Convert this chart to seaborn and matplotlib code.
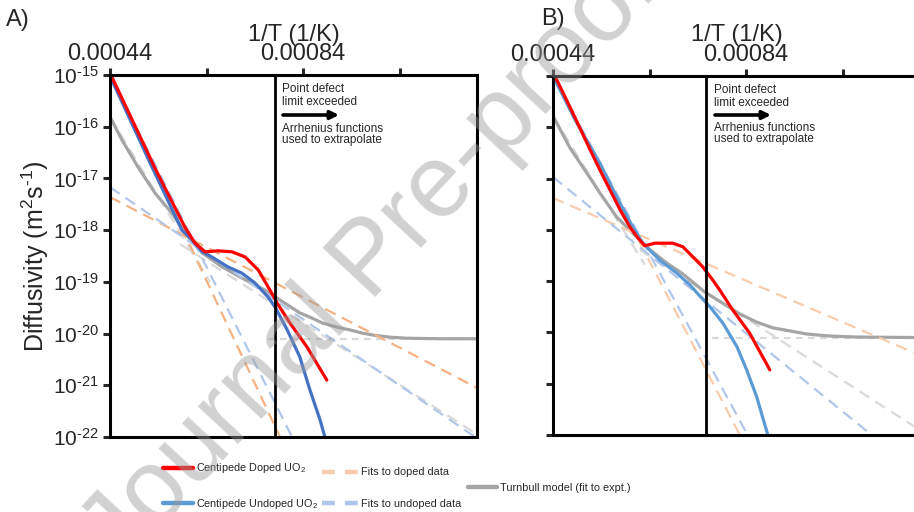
import numpy as np
import matplotlib
matplotlib.use("Agg")
import matplotlib.pyplot as plt
from matplotlib.lines import Line2D
from matplotlib.patches import FancyArrowPatch
from matplotlib.ticker import FixedLocator, FixedFormatter, NullLocator
import seaborn as sns

# ---------------- data (x = 1/T in 1/K, values = log10 D in m^2/s) ----------------
# Panel A
a_doped_x = [0.000442, 0.000533, 0.000595, 0.000616, 0.000637, 0.000664, 0.000693, 0.000720,
             0.000747, 0.000775, 0.000786, 0.000813, 0.000848, 0.000889]
a_doped_logD = [-15.00, -16.80, -17.94, -18.25, -18.42, -18.40, -18.42, -18.52,
                -18.77, -19.22, -19.41, -19.80, -20.26, -20.90]
a_undoped_x = [0.000440, 0.000523, 0.000589, 0.000610, 0.000631, 0.000651, 0.000684, 0.000713,
               0.000740, 0.000767, 0.000782, 0.000807, 0.000833, 0.000854, 0.000875, 0.000885]
a_undoped_logD = [-15.02, -16.70, -18.00, -18.19, -18.42, -18.52, -18.71, -18.83,
                  -19.02, -19.29, -19.49, -19.93, -20.45, -21.09, -21.67, -22.00]
a_turnbull_x = [0.000440, 0.000465, 0.000498, 0.000533, 0.000568, 0.000602, 0.000631, 0.000672,
                0.000720, 0.000761, 0.000782, 0.000833, 0.000858, 0.000881, 0.000908, 0.000937,
                0.000962, 0.000985, 0.001020, 0.001055, 0.001123, 0.001200]
a_turnbull_logD = [-15.81, -16.26, -16.78, -17.28, -17.67, -18.13, -18.44, -18.71,
                   -18.96, -19.16, -19.29, -19.60, -19.70, -19.80, -19.87, -19.93,
                   -19.99, -20.03, -20.07, -20.09, -20.10, -20.10]
a_fit_doped_x = [[0.00044, 0.000792], [0.00044, 0.00120]]
a_fit_doped_logD = [[-15.0, -22.0], [-17.36, -21.05]]
a_fit_undoped_x = [[0.00044, 0.000817], [0.00044, 0.001196]]
a_fit_undoped_logD = [[-15.0, -22.0], [-17.17, -22.0]]
a_terms_x = [[0.00044, 0.000647], [0.000585, 0.001192], [0.000767, 0.00120]]
a_terms_logD = [[-15.81, -19.0], [-18.27, -21.90], [-20.1, -20.1]]
a_limit_x = 0.000782

# Panel B
b_doped_x = [0.000444, 0.000486, 0.000517, 0.000537, 0.000558, 0.000579, 0.000599, 0.000616,
             0.000630, 0.000651, 0.000688, 0.000709, 0.000730, 0.000750, 0.000771, 0.000785,
             0.000812, 0.000847, 0.000889]
b_doped_logD = [-15.00, -15.82, -16.44, -16.83, -17.22, -17.61, -17.94, -18.16,
                -18.31, -18.26, -18.26, -18.33, -18.53, -18.72, -18.98, -19.17,
                -19.56, -20.01, -20.73]
b_undoped_x = [0.000440, 0.000486, 0.000537, 0.000572, 0.000605, 0.000626, 0.000661, 0.000696,
               0.000723, 0.000744, 0.000765, 0.000792, 0.000821, 0.000841, 0.000862, 0.000874,
               0.000885]
b_undoped_logD = [-15.00, -15.86, -16.70, -17.36, -17.94, -18.26, -18.59, -18.84,
                  -19.07, -19.29, -19.50, -19.82, -20.28, -20.73, -21.26, -21.65,
                  -22.00]
b_turnbull_x = [0.000440, 0.000475, 0.000517, 0.000537, 0.000572, 0.000605, 0.000641, 0.000676,
                0.000709, 0.000754, 0.000827, 0.000862, 0.000895, 0.000930, 0.000965, 0.001013,
                0.001069, 0.001199]
b_turnbull_logD = [-15.78, -16.40, -16.99, -17.28, -17.75, -18.06, -18.39, -18.65,
                   -18.86, -19.21, -19.64, -19.80, -19.91, -19.97, -20.03, -20.07,
                   -20.09, -20.10]
b_fit_doped_x = [[0.00044, 0.000827], [0.00044, 0.001199]]
b_fit_doped_logD = [[-15.0, -22.0], [-17.38, -20.44]]
b_fit_undoped_x = [[0.00044, 0.000843], [0.00044, 0.001100]]
b_fit_undoped_logD = [[-15.0, -22.0], [-16.97, -22.0]]
b_terms_x = [[0.00044, 0.000630], [0.000620, 0.001199], [0.000769, 0.001199]]
b_terms_logD = [[-15.78, -18.68], [-18.39, -21.90], [-20.1, -20.1]]
b_limit_x = 0.000756

x_ticks = [0.00044, 0.00064, 0.00084, 0.00104]
x_tick_labels = ["0.00044", "", "0.00084", ""]
y_decades = [-22, -21, -20, -19, -18, -17, -16, -15]

# ---------------- style ----------------
sns.set_style("white")
plt.rcParams["font.family"] = ["Liberation Sans", "DejaVu Sans"]
plt.rcParams["mathtext.fontset"] = "custom"
plt.rcParams["mathtext.rm"] = "Liberation Sans"
plt.rcParams["mathtext.it"] = "Liberation Sans:italic"
plt.rcParams["mathtext.bf"] = "Liberation Sans:bold"

RED = "#FF0000"
BLUE_A = "#4472C4"
BLUE_B = "#5B9BD5"
GREY = "#A5A5A5"
ORANGE_FIT = "#F4B183"
BLUE_FIT = "#AFC6EA"
GREY_FIT = "#D9D9D9"

W, H = 914, 512
fig = plt.figure(figsize=(W / 100, H / 100), dpi=100)


def fx(px):
    return px / W


def fy(py):
    return 1 - py / H


def add_axes(left, right, top, bottom):
    return fig.add_axes([fx(left), fy(bottom), (right - left) / W, (bottom - top) / H])


def line(ax, xs, logd, color, lw, ls="-", z=2):
    sns.lineplot(x=np.asarray(xs), y=10.0 ** np.asarray(logd), ax=ax, color=color,
                 linewidth=lw, linestyle=ls, estimator=None, sort=False,
                 legend=False, zorder=z)


long_dash = (0, (5.2, 3.2))
flat_dash = (0, (3.0, 2.4))


def draw_panel(ax, doped, undoped, turnbull, fit_d, fit_u, terms, limit_x, blue, orange,
               show_ylabels):
    # Turnbull model components
    for i, (xs, ys) in enumerate(zip(*terms)):
        line(ax, xs, ys, GREY_FIT, 1.6, flat_dash if i == 2 else long_dash, z=1.5)
    line(ax, turnbull[0], turnbull[1], GREY, 2.3, z=2)
    for xs, ys in zip(*fit_d):
        line(ax, xs, ys, orange, 1.6, long_dash, z=2.2)
    for xs, ys in zip(*fit_u):
        line(ax, xs, ys, BLUE_FIT, 1.6, long_dash, z=2.2)
    line(ax, undoped[0], undoped[1], blue, 2.3, z=2.4)
    line(ax, doped[0], doped[1], RED, 2.3, z=2.5)
    ax.axvline(limit_x, color="black", lw=2.0, zorder=2.6)

    ax.set_yscale("log")
    ax.set_xlim(0.00044, 0.00120)
    ax.set_ylim(1e-22, 1e-15)
    ax.yaxis.set_major_locator(FixedLocator([10.0 ** d for d in y_decades]))
    ax.yaxis.set_minor_locator(NullLocator())
    if show_ylabels:
        ax.yaxis.set_major_formatter(
            FixedFormatter([r"$10^{\text{%d}}$" % d for d in y_decades]))
    else:
        ax.set_yticklabels([])
    ax.xaxis.tick_top()
    ax.xaxis.set_label_position("top")
    ax.set_xticks(x_ticks)
    ax.set_xticklabels(x_tick_labels)
    ax.set_xlabel("1/T (1/K)", fontsize=17, labelpad=2)
    ax.tick_params(axis="x", which="major", direction="out", length=5, width=2.2,
                   labelsize=17, pad=2, top=True, bottom=False)
    ax.tick_params(axis="y", which="major", direction="out", length=5, width=2.2,
                   labelsize=15, pad=3, left=True, right=False)
    for s in ax.spines.values():
        s.set_visible(True)
        s.set_linewidth(2.2)
        s.set_color("black")
    ax.set_ylabel("")
    ax.grid(False)


ax_a = add_axes(110, 477, 75, 437)
draw_panel(ax_a, (a_doped_x, a_doped_logD), (a_undoped_x, a_undoped_logD),
           (a_turnbull_x, a_turnbull_logD), (a_fit_doped_x, a_fit_doped_logD),
           (a_fit_undoped_x, a_fit_undoped_logD), (a_terms_x, a_terms_logD),
           a_limit_x, BLUE_A, ORANGE_FIT, True)
ax_a.set_ylabel(r"Diffusivity (m$^{2}$s$^{\text{-1}}$)", fontsize=18, labelpad=1)

ax_b = add_axes(553, 920, 76, 435)
draw_panel(ax_b, (b_doped_x, b_doped_logD), (b_undoped_x, b_undoped_logD),
           (b_turnbull_x, b_turnbull_logD), (b_fit_doped_x, b_fit_doped_logD),
           (b_fit_undoped_x, b_fit_undoped_logD), (b_terms_x, b_terms_logD),
           b_limit_x, BLUE_B, "#F8CBAD", False)

# panel letters
fig.text(fx(6), fy(20), "A)", fontsize=17, ha="left", va="center")
fig.text(fx(541), fy(19), "B)", fontsize=17, ha="left", va="center")

# notes beside the point-defect limit
note_rows = ["Point defect", "limit exceeded", "Arrhenius functions", "used to extrapolate"]
for left, arrow_y, rows in [(282, 115, (89, 102, 129, 140)), (714, 115, (90, 103, 128, 139))]:
    for t, ry in zip(note_rows, rows):
        fig.text(fx(left), fy(ry), t, fontsize=8.5, ha="left", va="center")
    fig.add_artist(FancyArrowPatch((fx(left + 1), fy(arrow_y)), (fx(left + 57), fy(arrow_y)),
                                   transform=fig.transFigure, arrowstyle="-|>",
                                   mutation_scale=12, lw=2.6, color="black",
                                   shrinkA=0, shrinkB=0))

# legend
leg_font = {"family": ["Liberation Sans", "DejaVu Sans"], "size": 7.8}
leg_common = dict(frameon=False, borderpad=0, borderaxespad=0, handletextpad=0.3,
                  labelspacing=1.95, prop=leg_font)
h1 = [Line2D([], [], color=RED, lw=3.2, solid_capstyle="round"),
      Line2D([], [], color=BLUE_B, lw=3.2, solid_capstyle="round")]
fig.legend(h1, [r"Centipede Doped UO$_2$", r"Centipede Undoped UO$_2$"],
           loc="center left", bbox_to_anchor=(fx(163), fy(486)), handlelength=2.75, **leg_common)
h2 = [Line2D([], [], color="#F8CBAD", lw=3.2, linestyle=(0, (2.9, 2.25))),
      Line2D([], [], color=BLUE_FIT, lw=3.2, linestyle=(0, (2.9, 2.25)))]
fig.legend(h2, ["Fits to doped data", "Fits to undoped data"],
           loc="center left", bbox_to_anchor=(fx(322), fy(488)), handlelength=3.3, **leg_common)
h3 = [Line2D([], [], color=GREY, lw=3.2, solid_capstyle="round")]
fig.legend(h3, ["Turnbull model (fit to expt.)"],
           loc="center left", bbox_to_anchor=(fx(468), fy(488)), handlelength=2.65, **leg_common)

# watermark
fig.text(fx(372), fy(262), "Journal Pre-proof", fontsize=74, rotation=47, color="#9a9a9a",
         alpha=0.45, ha="center", va="center", zorder=50)

fig.savefig("out.png", dpi=100)
